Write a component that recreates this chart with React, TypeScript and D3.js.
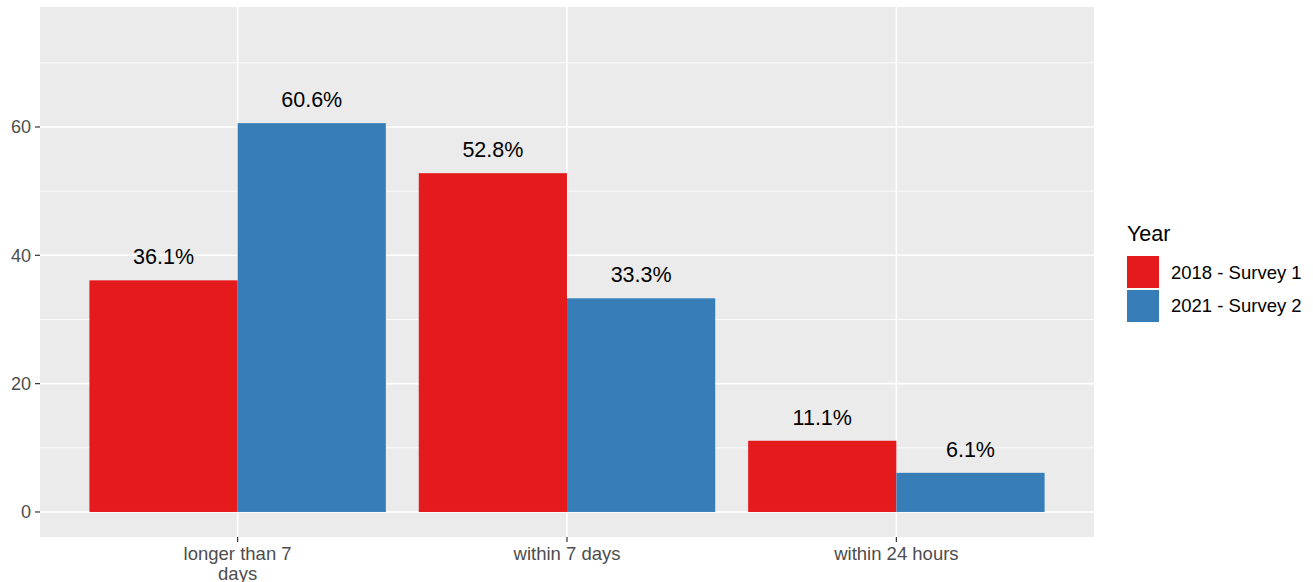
import React from "react";
import * as d3 from "d3";

const categories = ["longer than 7 days", "within 7 days", "within 24 hours"];
const categoryLines = [["longer than 7", "days"], ["within 7 days"], ["within 24 hours"]];
const seriesNames = ["2018 - Survey 1", "2021 - Survey 2"];
const survey2018 = [36.1, 52.8, 11.1];
const survey2021 = [60.6, 33.3, 6.1];
const colors = ["#E41A1C", "#377EB8"];
const yTicks = [0, 20, 40, 60];
const yMinor = [10, 30, 50, 70];

export default function App() {
  const W = 1313, H = 582;
  const left = 40, right = 1094, top = 7, bottom = 537;
  const y = d3.scaleLinear().domain([-3.9, 78.7]).range([bottom, top]);
  const step = (right - left) / (categories.length - 1 + 1.2);
  const x = d3.scalePoint<string>().domain(categories).range([left + 0.6 * step, right - 0.6 * step]);
  const bw = step * 0.45;
  const series = [survey2018, survey2021];
  const font = "Liberation Sans, Arial, sans-serif";
  return (
    <svg width={W} height={H} style={{ position: "absolute", left: 0, top: 0, background: "#fff" }} fontFamily={font}>
      <rect x={left} y={top} width={right - left} height={bottom - top} fill="#EBEBEB" />
      {yMinor.map((t) => (
        <line key={"m" + t} x1={left} x2={right} y1={y(t)} y2={y(t)} stroke="#fff" strokeWidth={0.8} />
      ))}
      {yTicks.map((t) => (
        <line key={"g" + t} x1={left} x2={right} y1={y(t)} y2={y(t)} stroke="#fff" strokeWidth={1.6} />
      ))}
      {categories.map((c) => (
        <line key={"v" + c} x1={x(c)} x2={x(c)} y1={top} y2={bottom} stroke="#fff" strokeWidth={1.6} />
      ))}
      {series.map((vals, si) =>
        vals.map((v, i) => {
          const cx = x(categories[i])!;
          const x0 = si === 0 ? cx - bw : cx;
          return (
            <g key={si + "-" + i}>
              <rect x={x0} y={y(v)} width={bw} height={y(0) - y(v)} fill={colors[si]} />
              <text x={x0 + bw / 2} y={y(v) - 16} textAnchor="middle" fontSize={21.5} fill="#000">
                {v.toFixed(1) + "%"}
              </text>
            </g>
          );
        })
      )}
      {yTicks.map((t) => (
        <g key={"yt" + t}>
          <line x1={left - 5} x2={left} y1={y(t)} y2={y(t)} stroke="#333" strokeWidth={1.2} />
          <text x={left - 9} y={y(t)} dy="0.35em" textAnchor="end" fontSize={18} fill="#4D4D4D">
            {t}
          </text>
        </g>
      ))}
      {categories.map((c, i) => (
        <g key={"xt" + c}>
          <line x1={x(c)} x2={x(c)} y1={bottom} y2={bottom + 5} stroke="#333" strokeWidth={1.2} />
          {categoryLines[i].map((ln, j) => (
            <text key={j} x={x(c)} y={bottom + 23 + j * 20} textAnchor="middle" fontSize={18.5} fill="#4D4D4D">
              {ln}
            </text>
          ))}
        </g>
      ))}
      <text x={1127} y={241} fontSize={21.5} fill="#000">Year</text>
      {seriesNames.map((s, i) => (
        <g key={s}>
          <rect x={1127} y={256 + i * 34} width={32} height={32} fill={colors[i]} />
          <text x={1171} y={273 + i * 33} dy="0.35em" fontSize={18.5} fill="#000">{s}</text>
        </g>
      ))}
    </svg>
  );
}
